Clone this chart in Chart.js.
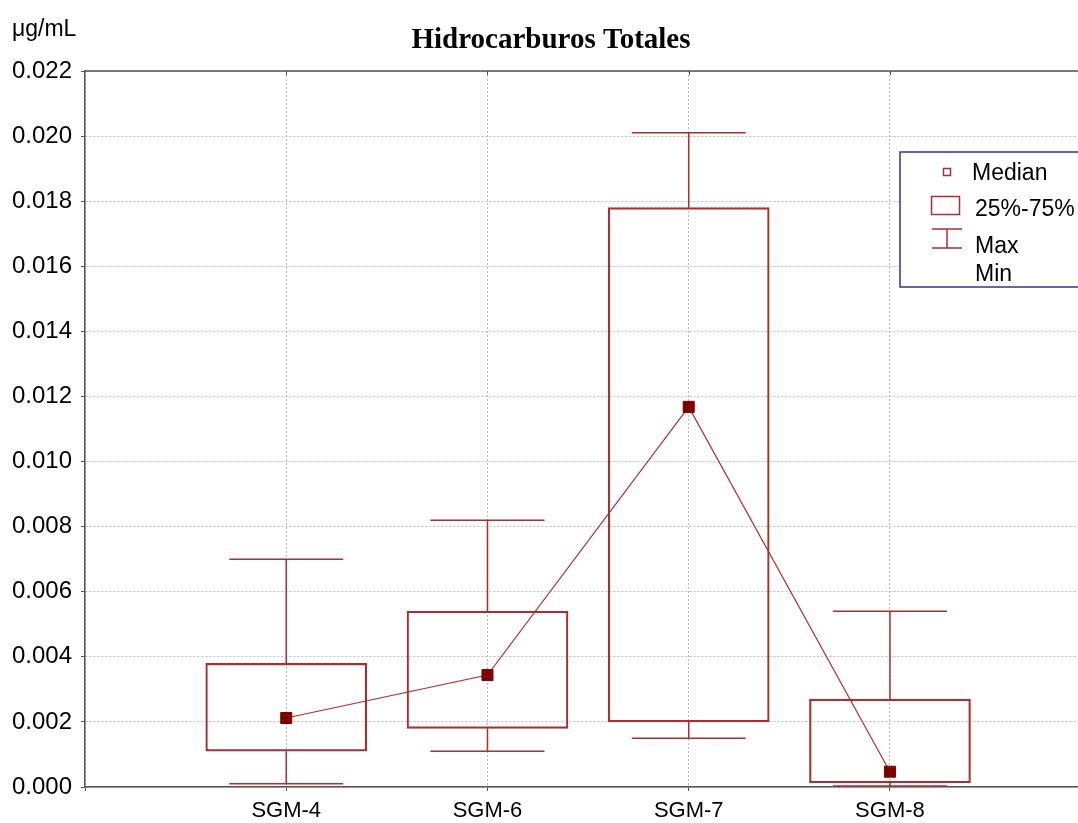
<!DOCTYPE html>
<html>
<head>
<meta charset="utf-8">
<script src="https://cdn.jsdelivr.net/npm/chart.js@4"></script>
<style>
html,body{margin:0;padding:0;background:#fff;overflow:hidden;width:1078px;height:823px;}
#wrap{position:absolute;left:0;top:0;width:1100px;height:823px;}
</style>
</head>
<body>
<div id="wrap"><canvas id="c"></canvas></div>
<script>
const categories = ['SGM-4', 'SGM-6', 'SGM-7', 'SGM-8'];
const minVals    = [0.0001, 0.0011, 0.0015, 0.00003];
const q1Vals     = [0.0011, 0.0018, 0.0020, 0.00013];
const medianVals = [0.00212, 0.00344, 0.01168, 0.00047];
const q3Vals     = [0.0038, 0.0054, 0.0178, 0.0027];
const maxVals    = [0.0070, 0.0082, 0.0201, 0.0054];
const titleText = 'Hidrocarburos Totales';
const unitText = 'μg/mL';
const legendLabels = ['Median', '25%-75%', 'Max', 'Min'];

const labels = ['', ...categories, ''];
const boxData = [null, ...categories.map((c, i) => [q1Vals[i], q3Vals[i]]), null];
const medData = [null, ...medianVals, null];

const RED = '#a83030';
const DARK = '#800000';
const SANS = '"Liberation Sans", Arial, sans-serif';

const extras = {
  id: 'extras',
  beforeDatasetsDraw(chart) {
    const ctx = chart.ctx, xs = chart.scales.x, ys = chart.scales.y;
    ctx.save();
    ctx.strokeStyle = RED;
    ctx.lineWidth = 1.5;
    categories.forEach((c, i) => {
      const x = xs.getPixelForValue(i + 1);
      const yMax = ys.getPixelForValue(maxVals[i]);
      const yQ3 = ys.getPixelForValue(q3Vals[i]);
      const yQ1 = ys.getPixelForValue(q1Vals[i]);
      const yMin = ys.getPixelForValue(minVals[i]);
      ctx.beginPath();
      ctx.moveTo(x, yQ3); ctx.lineTo(x, yMax);
      ctx.moveTo(x - 57, yMax); ctx.lineTo(x + 57, yMax);
      ctx.moveTo(x, yQ1); ctx.lineTo(x, yMin);
      ctx.moveTo(x - 57, yMin); ctx.lineTo(x + 57, yMin);
      ctx.stroke();
    });
    ctx.restore();
  },
  afterDraw(chart) {
    const ctx = chart.ctx, a = chart.chartArea, xs = chart.scales.x;
    ctx.save();
    ctx.strokeStyle = '#555';
    ctx.lineWidth = 1.5;
    ctx.beginPath();
    ctx.moveTo(a.left, a.top); ctx.lineTo(a.right, a.top);
    ctx.stroke();
    ctx.lineWidth = 1;
    ctx.beginPath();
    categories.forEach((c, i) => {
      const x = Math.round(xs.getPixelForValue(i + 1)) + 0.5;
      ctx.moveTo(x, a.top); ctx.lineTo(x, a.top + 4);
    });
    ctx.stroke();
    // title
    ctx.fillStyle = '#000';
    ctx.font = 'bold 29px "Liberation Serif", "Times New Roman", serif';
    ctx.textAlign = 'center';
    ctx.textBaseline = 'alphabetic';
    ctx.fillText(titleText, 551, 48);
    // unit label
    ctx.font = '23px ' + SANS;
    ctx.textAlign = 'left';
    ctx.fillText(unitText, 12, 36);
    // legend
    ctx.fillStyle = '#fff';
    ctx.fillRect(900, 152, 200, 135);
    ctx.strokeStyle = '#3030a0';
    ctx.lineWidth = 1.5;
    ctx.strokeRect(900, 152, 200, 135);
    ctx.strokeStyle = RED;
    ctx.lineWidth = 1.5;
    ctx.strokeRect(943.5, 168.5, 7, 7);
    ctx.strokeRect(931.5, 196.5, 28, 18);
    ctx.beginPath();
    ctx.moveTo(947, 229); ctx.lineTo(947, 248);
    ctx.moveTo(932, 229); ctx.lineTo(962, 229);
    ctx.moveTo(932, 248); ctx.lineTo(962, 248);
    ctx.stroke();
    ctx.fillStyle = '#000';
    ctx.font = '23px ' + SANS;
    ctx.textBaseline = 'middle';
    ctx.fillText(legendLabels[0], 972, 174);
    ctx.fillText(legendLabels[1], 975, 210);
    ctx.fillText(legendLabels[2], 975, 247);
    ctx.fillText(legendLabels[3], 975, 275);
    ctx.restore();
  }
};

new Chart(document.getElementById('c'), {
  data: {
    labels: labels,
    datasets: [
      {
        type: 'bar',
        data: boxData,
        backgroundColor: 'rgba(255,255,255,0)',
        borderColor: RED,
        borderWidth: 1.5,
        borderSkipped: false,
        barThickness: 161,
        order: 2
      },
      {
        type: 'line',
        data: medData,
        borderColor: '#b03030',
        borderWidth: 1.2,
        pointStyle: 'rect',
        pointRadius: 7.8,
        pointBackgroundColor: DARK,
        pointBorderColor: DARK,
        pointBorderWidth: 1,
        spanGaps: false,
        order: 1
      }
    ]
  },
  options: {
    responsive: true,
    maintainAspectRatio: false,
    animation: false,
    events: [],
    layout: { padding: { top: 71, right: 8, bottom: 0, left: 0 } },
    plugins: { legend: { display: false }, title: { display: false }, tooltip: { enabled: false } },
    scales: {
      x: {
        type: 'category',
        offset: false,
        afterFit: s => { s.height = 36; },
        grid: {
          offset: false,
          color: '#bcbcbc',
          lineWidth: 1,
          tickColor: '#555',
          tickLength: 4,
          tickBorderDash: []
        },
        border: { color: '#555', width: 1.5, dash: [2, 2] },
        ticks: {
          color: '#000',
          padding: 7,
          autoSkip: false,
          maxRotation: 0,
          font: { family: SANS, size: 22 }
        }
      },
      y: {
        min: 0,
        max: 0.022,
        afterFit: s => { s.width = 85; },
        grid: {
          color: '#bcbcbc',
          lineWidth: 1,
          tickColor: '#555',
          tickLength: 4,
          tickBorderDash: []
        },
        border: { color: '#555', width: 1.5, dash: [2, 2] },
        ticks: {
          stepSize: 0.002,
          color: '#000',
          padding: 9,
          callback: v => Number(v).toFixed(3),
          font: { family: SANS, size: 24 }
        }
      }
    }
  },
  plugins: [extras]
});
</script>
</body>
</html>
